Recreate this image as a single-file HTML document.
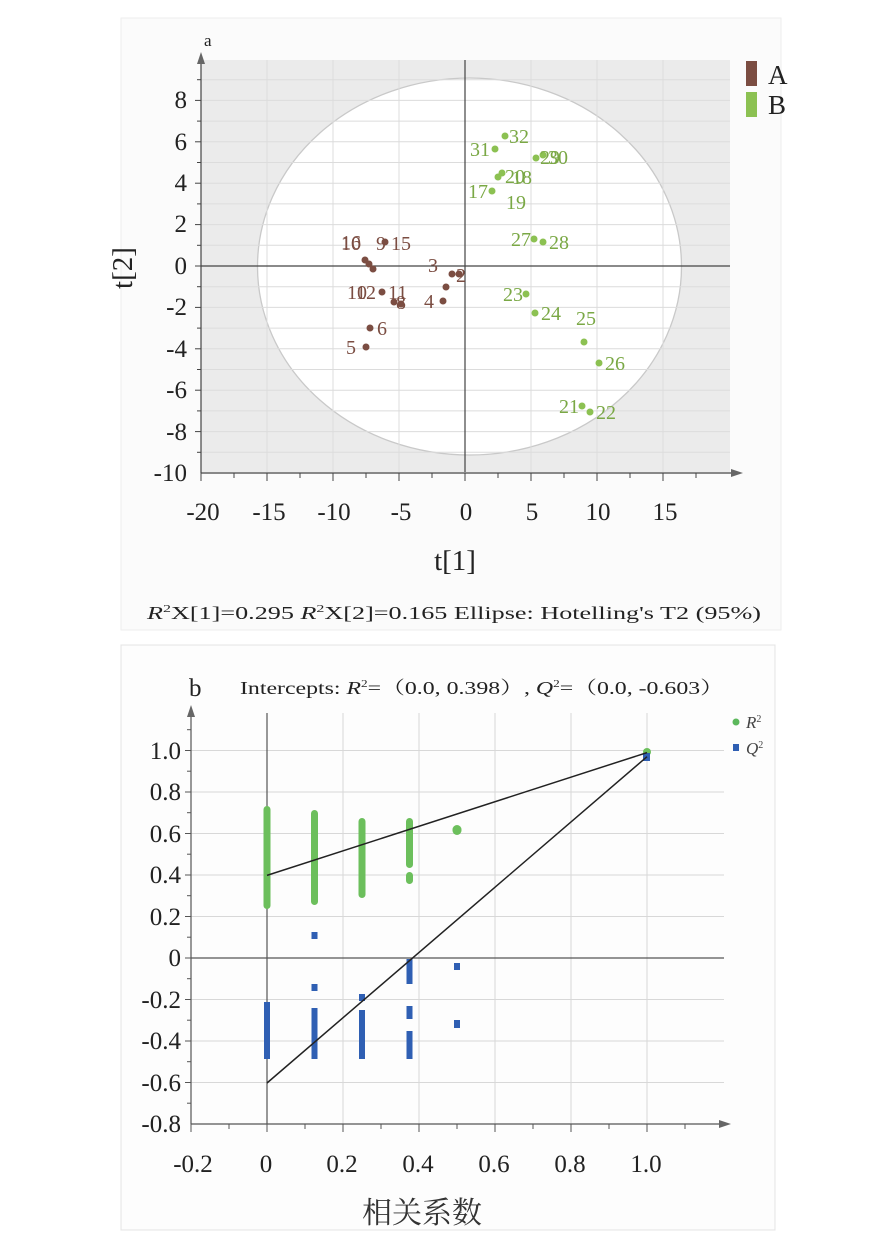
<!DOCTYPE html>
<html><head><meta charset="utf-8"><style>
html,body{margin:0;padding:0;background:#fff;}
svg{display:block;}
text{font-family:"Liberation Serif","Noto Serif CJK SC",serif;}
</style></head><body>
<svg width="882" height="1242" viewBox="0 0 882 1242" xmlns="http://www.w3.org/2000/svg">
<rect x="0" y="0" width="882" height="1242" fill="#fff"/>
<rect x="121" y="18" width="660" height="612" fill="#fbfbfb" stroke="#eee"/>
<rect x="121" y="645" width="654" height="585" fill="#fdfdfd" stroke="#e4e4e4"/>
<!-- Panel a -->
<rect x="201" y="60" width="529" height="412" fill="#ebebeb"/>
<ellipse cx="469.5" cy="266.5" rx="212" ry="188.5" fill="#fff" stroke="#c9c9c9" stroke-width="1.3"/>
<g stroke="#dcdcdc" stroke-width="1">
<line x1="201" x2="730" y1="79.7" y2="79.7"/><line x1="201" x2="730" y1="100.4" y2="100.4"/><line x1="201" x2="730" y1="121.1" y2="121.1"/><line x1="201" x2="730" y1="141.8" y2="141.8"/><line x1="201" x2="730" y1="162.5" y2="162.5"/><line x1="201" x2="730" y1="183.2" y2="183.2"/><line x1="201" x2="730" y1="203.9" y2="203.9"/><line x1="201" x2="730" y1="224.6" y2="224.6"/><line x1="201" x2="730" y1="245.3" y2="245.3"/><line x1="201" x2="730" y1="286.7" y2="286.7"/><line x1="201" x2="730" y1="307.4" y2="307.4"/><line x1="201" x2="730" y1="328.1" y2="328.1"/><line x1="201" x2="730" y1="348.8" y2="348.8"/><line x1="201" x2="730" y1="369.5" y2="369.5"/><line x1="201" x2="730" y1="390.2" y2="390.2"/><line x1="201" x2="730" y1="410.9" y2="410.9"/><line x1="201" x2="730" y1="431.6" y2="431.6"/><line x1="201" x2="730" y1="452.3" y2="452.3"/>
<line x1="267" x2="267" y1="60" y2="472"/><line x1="333" x2="333" y1="60" y2="472"/><line x1="399" x2="399" y1="60" y2="472"/><line x1="531" x2="531" y1="60" y2="472"/><line x1="597" x2="597" y1="60" y2="472"/><line x1="663" x2="663" y1="60" y2="472"/>
</g>
<g stroke="#444" stroke-width="1.2">
<line x1="201" x2="730" y1="266" y2="266"/>
<line x1="465" x2="465" y1="60" y2="472"/>
<line x1="201" x2="201" y1="60" y2="473"/>
<line x1="201" x2="735" y1="473" y2="473"/>
</g>
<polygon points="201,52 197,64 205,64" fill="#666"/>
<polygon points="743,473 731,469 731,477" fill="#666"/>
<g stroke="#444" stroke-width="1">
<line x1="195" x2="201" y1="100.4" y2="100.4"/><line x1="195" x2="201" y1="141.8" y2="141.8"/><line x1="195" x2="201" y1="183.2" y2="183.2"/><line x1="195" x2="201" y1="224.6" y2="224.6"/><line x1="195" x2="201" y1="266" y2="266"/><line x1="195" x2="201" y1="307.4" y2="307.4"/><line x1="195" x2="201" y1="348.8" y2="348.8"/><line x1="195" x2="201" y1="390.2" y2="390.2"/><line x1="195" x2="201" y1="431.6" y2="431.6"/>
<line x1="197" x2="201" y1="79.7" y2="79.7"/><line x1="197" x2="201" y1="121.1" y2="121.1"/><line x1="197" x2="201" y1="162.5" y2="162.5"/><line x1="197" x2="201" y1="203.9" y2="203.9"/><line x1="197" x2="201" y1="245.3" y2="245.3"/><line x1="197" x2="201" y1="286.7" y2="286.7"/><line x1="197" x2="201" y1="328.1" y2="328.1"/><line x1="197" x2="201" y1="369.5" y2="369.5"/><line x1="197" x2="201" y1="410.9" y2="410.9"/><line x1="197" x2="201" y1="452.3" y2="452.3"/>
<line x1="201" x2="201" y1="473" y2="481"/><line x1="234" x2="234" y1="473" y2="478"/><line x1="267" x2="267" y1="473" y2="481"/><line x1="300" x2="300" y1="473" y2="478"/><line x1="333" x2="333" y1="473" y2="481"/><line x1="366" x2="366" y1="473" y2="478"/><line x1="399" x2="399" y1="473" y2="481"/><line x1="432" x2="432" y1="473" y2="478"/><line x1="465" x2="465" y1="473" y2="481"/><line x1="498" x2="498" y1="473" y2="478"/><line x1="531" x2="531" y1="473" y2="481"/><line x1="564" x2="564" y1="473" y2="478"/><line x1="597" x2="597" y1="473" y2="481"/><line x1="630" x2="630" y1="473" y2="478"/><line x1="663" x2="663" y1="473" y2="481"/><line x1="696" x2="696" y1="473" y2="478"/>
</g>
<g font-size="25" fill="#222" text-anchor="end">
<text x="187" y="108">8</text><text x="187" y="150">6</text><text x="187" y="191">4</text><text x="187" y="232">2</text><text x="187" y="274">0</text><text x="187" y="315">-2</text><text x="187" y="357">-4</text><text x="187" y="398">-6</text><text x="187" y="440">-8</text><text x="187" y="481">-10</text>
</g>
<g font-size="25" fill="#222" text-anchor="middle">
<text x="203" y="520">-20</text><text x="269" y="520">-15</text><text x="334" y="520">-10</text><text x="401" y="520">-5</text><text x="466" y="520">0</text><text x="532" y="520">5</text><text x="598" y="520">10</text><text x="665" y="520">15</text>
</g>
<text x="455" y="570" font-size="29" text-anchor="middle" fill="#222">t[1]</text>
<text x="132" y="268" font-size="29" text-anchor="middle" fill="#222" transform="rotate(-90 132 268)">t[2]</text>
<text x="204" y="46" font-size="17" fill="#222">a</text>
<rect x="746" y="61" width="11" height="25" fill="#7b4d42"/>
<text x="768" y="84" font-size="27" fill="#222">A</text>
<rect x="746" y="92" width="11" height="25" fill="#8cc152"/>
<text x="768" y="114" font-size="27" fill="#222">B</text>
<g fill="#7b4d42">
<circle cx="365" cy="260" r="3.5"/><circle cx="369" cy="264" r="3.5"/><circle cx="373" cy="269" r="3.5"/><circle cx="382" cy="292" r="3.5"/><circle cx="394" cy="302" r="3.5"/><circle cx="401" cy="304" r="3.5"/><circle cx="370" cy="328" r="3.5"/><circle cx="366" cy="347" r="3.5"/><circle cx="385" cy="242" r="3.5"/><circle cx="446" cy="287" r="3.5"/><circle cx="443" cy="301" r="3.5"/><circle cx="452" cy="274" r="3.5"/><circle cx="459" cy="274" r="3.5"/>
</g>
<g font-size="20" fill="#7b4d42">
<text x="341" y="249">16</text><text x="341" y="250">10</text><text x="376" y="250">9</text><text x="391" y="250">15</text><text x="428" y="272">3</text><text x="456" y="282">2</text><text x="347" y="299">10</text><text x="356" y="299">12</text><text x="388" y="299">11</text><text x="396" y="309">8</text><text x="424" y="308">4</text><text x="377" y="335">6</text><text x="346" y="354">5</text>
</g>
<g fill="#8cc152">
<circle cx="495" cy="149" r="3.5"/><circle cx="505" cy="136" r="3.5"/><circle cx="536" cy="158" r="3.5"/><circle cx="543" cy="155" r="3.5"/><circle cx="498" cy="177" r="3.5"/><circle cx="502" cy="173" r="3.5"/><circle cx="492" cy="191" r="3.5"/><circle cx="534" cy="239" r="3.5"/><circle cx="543" cy="242" r="3.5"/><circle cx="526" cy="294" r="3.5"/><circle cx="535" cy="313" r="3.5"/><circle cx="584" cy="342" r="3.5"/><circle cx="599" cy="363" r="3.5"/><circle cx="582" cy="406" r="3.5"/><circle cx="590" cy="412" r="3.5"/>
</g>
<g font-size="20" fill="#7aa845">
<text x="470" y="156">31</text><text x="509" y="143">32</text><text x="540" y="164">29</text><text x="548" y="164">30</text><text x="505" y="183">20</text><text x="512" y="184">18</text><text x="468" y="198">17</text><text x="506" y="209">19</text><text x="511" y="246">27</text><text x="549" y="249">28</text><text x="503" y="301">23</text><text x="541" y="320">24</text><text x="576" y="325">25</text><text x="605" y="370">26</text><text x="559" y="413">21</text><text x="596" y="419">22</text>
</g>
<text x="147" y="619" font-size="18" fill="#222" textLength="614" lengthAdjust="spacingAndGlyphs"><tspan font-style="italic">R</tspan><tspan font-size="11" dy="-7">2</tspan><tspan dy="7">X[1]=0.295    </tspan><tspan font-style="italic">R</tspan><tspan font-size="11" dy="-7">2</tspan><tspan dy="7">X[2]=0.165 Ellipse: Hotelling's T2 (95%)</tspan></text>

<!-- Panel b -->
<g stroke="#d8d8d8" stroke-width="1">
<line x1="191" x2="724" y1="750.5" y2="750.5"/><line x1="191" x2="724" y1="792" y2="792"/><line x1="191" x2="724" y1="833.5" y2="833.5"/><line x1="191" x2="724" y1="875" y2="875"/><line x1="191" x2="724" y1="916.5" y2="916.5"/><line x1="191" x2="724" y1="999.5" y2="999.5"/><line x1="191" x2="724" y1="1041" y2="1041"/><line x1="191" x2="724" y1="1082.5" y2="1082.5"/>
<line x1="343" x2="343" y1="713" y2="1124"/><line x1="419" x2="419" y1="713" y2="1124"/><line x1="495" x2="495" y1="713" y2="1124"/><line x1="571" x2="571" y1="713" y2="1124"/><line x1="647" x2="647" y1="713" y2="1124"/>
</g>
<g stroke="#555" stroke-width="1.2">
<line x1="191" x2="724" y1="958" y2="958"/>
<line x1="267" x2="267" y1="713" y2="1124"/>
<line x1="191" x2="191" y1="713" y2="1124"/>
<line x1="191" x2="724" y1="1124" y2="1124"/>
</g>
<polygon points="191,705 187,717 195,717" fill="#666"/>
<polygon points="731,1124 719,1120 719,1128" fill="#666"/>
<g stroke="#555" stroke-width="1">
<line x1="185" x2="191" y1="750.5" y2="750.5"/><line x1="185" x2="191" y1="792" y2="792"/><line x1="185" x2="191" y1="833.5" y2="833.5"/><line x1="185" x2="191" y1="875" y2="875"/><line x1="185" x2="191" y1="916.5" y2="916.5"/><line x1="185" x2="191" y1="958" y2="958"/><line x1="185" x2="191" y1="999.5" y2="999.5"/><line x1="185" x2="191" y1="1041" y2="1041"/><line x1="185" x2="191" y1="1082.5" y2="1082.5"/>
<line x1="187" x2="191" y1="729.7" y2="729.7"/><line x1="187" x2="191" y1="771.2" y2="771.2"/><line x1="187" x2="191" y1="812.7" y2="812.7"/><line x1="187" x2="191" y1="854.2" y2="854.2"/><line x1="187" x2="191" y1="895.7" y2="895.7"/><line x1="187" x2="191" y1="937.2" y2="937.2"/><line x1="187" x2="191" y1="978.7" y2="978.7"/><line x1="187" x2="191" y1="1020.2" y2="1020.2"/><line x1="187" x2="191" y1="1061.7" y2="1061.7"/><line x1="187" x2="191" y1="1103.2" y2="1103.2"/>
<line x1="191" x2="191" y1="1124" y2="1132"/><line x1="229" x2="229" y1="1124" y2="1129"/><line x1="267" x2="267" y1="1124" y2="1132"/><line x1="305" x2="305" y1="1124" y2="1129"/><line x1="343" x2="343" y1="1124" y2="1132"/><line x1="381" x2="381" y1="1124" y2="1129"/><line x1="419" x2="419" y1="1124" y2="1132"/><line x1="457" x2="457" y1="1124" y2="1129"/><line x1="495" x2="495" y1="1124" y2="1132"/><line x1="533" x2="533" y1="1124" y2="1129"/><line x1="571" x2="571" y1="1124" y2="1132"/><line x1="609" x2="609" y1="1124" y2="1129"/><line x1="647" x2="647" y1="1124" y2="1132"/><line x1="685" x2="685" y1="1124" y2="1129"/>
</g>
<g font-size="25" fill="#222" text-anchor="end">
<text x="181" y="759">1.0</text><text x="181" y="800">0.8</text><text x="181" y="842">0.6</text><text x="181" y="883">0.4</text><text x="181" y="925">0.2</text><text x="181" y="966">0</text><text x="181" y="1008">-0.2</text><text x="181" y="1049">-0.4</text><text x="181" y="1091">-0.6</text><text x="181" y="1132">-0.8</text>
</g>
<g font-size="25" fill="#222" text-anchor="middle">
<text x="193" y="1172">-0.2</text><text x="266" y="1172">0</text><text x="342" y="1172">0.2</text><text x="418" y="1172">0.4</text><text x="494" y="1172">0.6</text><text x="570" y="1172">0.8</text><text x="646" y="1172">1.0</text>
</g>
<text x="422" y="1223" font-size="30" text-anchor="middle" fill="#333" font-family="'Noto Sans CJK SC',sans-serif">相关系数</text>
<text x="189" y="696" font-size="25" fill="#222">b</text>
<text x="240" y="694" font-size="18" fill="#222" textLength="484" lengthAdjust="spacingAndGlyphs">Intercepts: <tspan font-style="italic">R</tspan><tspan font-size="10" dy="-7">2</tspan><tspan dy="7">=（0.0, 0.398）, </tspan><tspan font-style="italic">Q</tspan><tspan font-size="10" dy="-7">2</tspan><tspan dy="7">=（0.0, -0.603）</tspan></text>
<circle cx="736" cy="722" r="3.5" fill="#5cb85c"/>
<text x="746" y="728" font-size="17" font-style="italic" fill="#444">R<tspan font-size="10" dy="-6" font-style="normal">2</tspan></text>
<rect x="733" y="744" width="6" height="7" fill="#2f5fb3"/>
<text x="746" y="754" font-size="17" font-style="italic" fill="#444">Q<tspan font-size="10" dy="-6" font-style="normal">2</tspan></text>
<g fill="#6cbf5c">
<rect x="263.5" y="806" width="7" height="103" rx="3.5"/>
<rect x="311" y="810" width="7" height="95" rx="3.5"/>
<rect x="358.5" y="818" width="7" height="80" rx="3.5"/>
<rect x="406" y="818" width="7" height="50" rx="3.5"/>
<rect x="406" y="872" width="7" height="12" rx="3.5"/>
<rect x="452.5" y="825" width="9" height="10" rx="4.5"/>
<circle cx="647" cy="752" r="4"/>
</g>
<g fill="#2f5fb3">
<rect x="264" y="1002" width="6" height="57"/>
<rect x="311.5" y="932" width="6" height="7"/>
<rect x="311.5" y="984" width="6" height="7"/>
<rect x="311.5" y="1008" width="6" height="51"/>
<rect x="359" y="994" width="6" height="7"/>
<rect x="359" y="1010" width="6" height="49"/>
<rect x="406.5" y="959" width="6" height="25"/>
<rect x="406.5" y="1006" width="6" height="13"/>
<rect x="406.5" y="1031" width="6" height="28"/>
<rect x="454" y="963" width="6" height="7"/>
<rect x="454" y="1020" width="6" height="8"/>
<rect x="643" y="753" width="7" height="8"/>
</g>
<g stroke="#222" stroke-width="1.5">
<line x1="267" y1="875.4" x2="647" y2="752.6"/>
<line x1="267" y1="1083" x2="647" y2="756.7"/>
</g>
</svg>
</body></html>
